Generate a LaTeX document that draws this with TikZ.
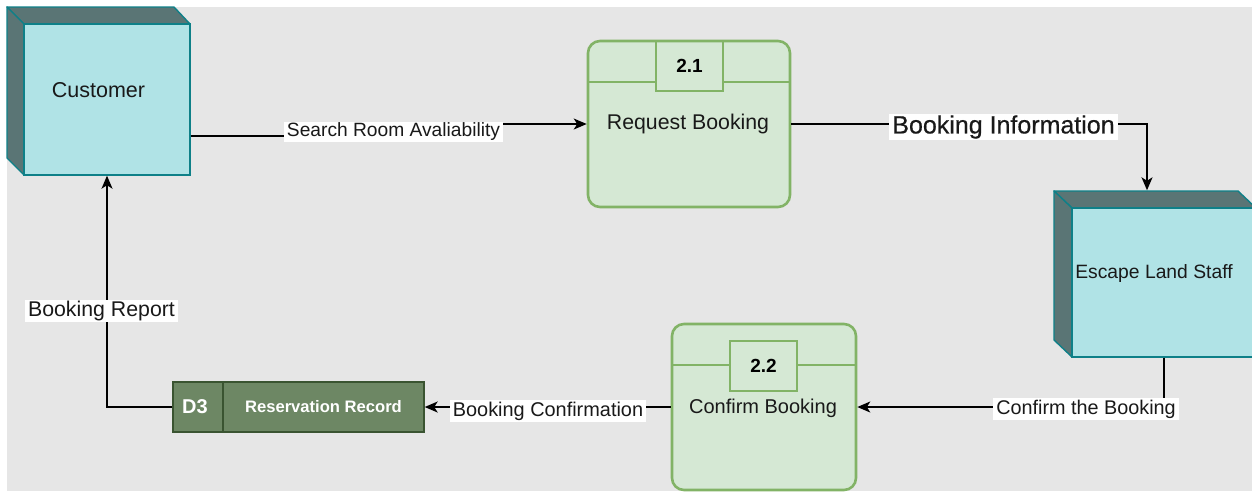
\documentclass[tikz,border=0pt]{standalone}
\usepackage{fontspec}
\setmainfont{Liberation Sans}
\newfontfamily\heavyfont{Liberation Sans}[FakeBold=0.5]
\usetikzlibrary{arrows.meta,calc}

\definecolor{canvas}{HTML}{E6E6E6}
\definecolor{cubefill}{HTML}{B0E3E6}
\definecolor{cubeline}{HTML}{0E8088}
\definecolor{cubedark}{HTML}{5A7575}
\definecolor{procfill}{HTML}{D5E8D4}
\definecolor{procline}{HTML}{82B366}
\definecolor{storefill}{HTML}{6D8764}
\definecolor{storeline}{HTML}{3A5431}

\tikzset{
  cubeface/.style={draw=cubeline, fill=cubefill, line width=1.4pt, inner sep=0pt},
  cubeside/.style={draw=cubeline, fill=cubedark, line width=1.4pt, line join=round},
  procbox/.style={draw=procline, fill=procfill, line width=2.6pt, rounded corners=12pt,
                  inner sep=0pt, minimum width=202pt},
  numbox/.style={draw=procline, line width=1.5pt, inner sep=0pt,
                 minimum width=67pt, minimum height=50pt,
                 font=\fontsize{19}{22}\selectfont\bfseries},
  procrule/.style={draw=procline, line width=1.5pt},
  storebox/.style={draw=storeline, fill=storefill, line width=1.4pt, inner sep=0pt,
                   minimum width=251pt, minimum height=50pt},
  txt/.style={inner sep=0pt, text=black!90},
  flowlabel/.style={fill=white, inner xsep=3pt, inner ysep=1.5pt, text=black!90},
  flow/.style={draw=black, line width=1.6pt,
               -{Stealth[length=13pt, width=11pt, inset=3.5pt]}},
}

\begin{document}
\begin{tikzpicture}[x=1pt, y=-1pt]
  \useasboundingbox (0,0) rectangle (1252,491);
  \fill[canvas] (7,7) rectangle (1252,491);

  % external entity: Customer (3-D box)
  \path[cubeside] (7,7) -- (174,7) -- (190,24) -- (24,24) -- cycle;
  \path[cubeside] (7,7) -- (24,24) -- (24,175) -- (7,158) -- cycle;
  \node[cubeface, minimum width=166pt, minimum height=151pt] (cust) at (107,99.5) {};
  \node[txt, font=\fontsize{21.5}{24}\selectfont] (custtxt) at (98.5,90) {Customer};

  % external entity: Escape Land Staff (3-D box)
  \path[cubeside] (1054,191) -- (1238,191) -- (1256,208) -- (1072,208) -- cycle;
  \path[cubeside] (1054,191) -- (1072,208) -- (1072,357) -- (1054,340) -- cycle;
  \node[cubeface, minimum width=184pt, minimum height=149pt] (esc) at (1164,282.5) {};
  \node[txt, font=\fontsize{19.3}{22}\selectfont] (esctxt) at (1154,274) {Escape Land Staff};

  % process 2.1
  \node[procbox, minimum height=166pt] (req) at (689,124) {};
  \draw[procrule] (588,82) -- (656,82);
  \draw[procrule] (723,82) -- (790,82);
  \node[numbox] (reqnum) at (689.5,66) {2.1};
  \node[txt, font=\fontsize{21.3}{24}\selectfont] (reqtxt) at (688,124) {Request Booking};

  % process 2.2
  \node[procbox, minimum width=184pt, minimum height=166pt] (conf) at (764,407) {};
  \draw[procrule] (672,365) -- (730,365);
  \draw[procrule] (797,365) -- (856,365);
  \node[numbox] (confnum) at (763.5,366) {2.2};
  \node[txt, font=\fontsize{20}{23}\selectfont] (conftxt) at (763,408) {Confirm Booking};

  % data store D3
  \node[storebox] (store) at (298.5,407) {};
  \draw[draw=storeline, line width=1.4pt] (223,382) -- (223,432);
  \node[txt, text=white, font=\fontsize{20}{23}\selectfont\bfseries] (d3) at (195,407) {D3};
  \node[txt, text=white, font=\fontsize{16.6}{19}\selectfont\bfseries] (storetxt) at (323.5,407) {Reservation Record};

  % data flows
  \coordinate (esctop) at ([shift={(-17pt,17pt)}]esc.north);
  \draw[flow] ([yshift=-36.5pt]cust.east) -- (393,136) -- (393,124) -- (req.west);
  \draw[flow] (req.east) -- (req.east -| esctop) -- (esctop);
  \draw[flow] (esc.south) -- (esc.south |- conf.east) -- (conf.east);
  \draw[flow] (conf.west) -- (store.east);
  \draw[flow] (store.west) -| (cust.south);

  % flow labels
  \node[flowlabel, font=\fontsize{19.2}{22}\selectfont] (lsearch) at (393.5,132) {Search Room Avaliability};
  \node[flowlabel, font=\fontsize{25}{29}\heavyfont] (linfo) at (1003.5,127) {Booking Information};
  \node[flowlabel, font=\fontsize{19.8}{23}\selectfont] (lconfirm) at (1086,409) {Confirm the Booking};
  \node[flowlabel, font=\fontsize{19.9}{23}\selectfont] (lconfirmation) at (548,411) {Booking Confirmation};
  \node[flowlabel, font=\fontsize{21.3}{24}\selectfont] (lreport) at (101.5,311) {Booking Report};
\end{tikzpicture}
\end{document}
